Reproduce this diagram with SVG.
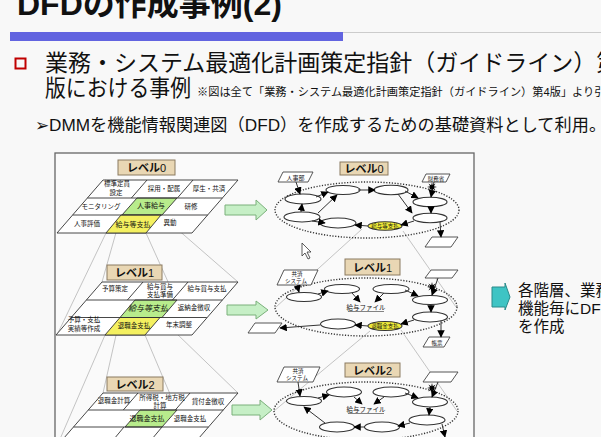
<svg xmlns="http://www.w3.org/2000/svg" width="601" height="437" viewBox="0 0 601 437">
<style>
.j{font-family:'Liberation Sans','Noto Sans CJK JP',sans-serif;fill:#111}
.cell{fill:#fff;stroke:#333;stroke-width:0.9}
.div{stroke:#333;stroke-width:0.9;fill:none}
.g{fill:#b8ec8c;stroke:#333;stroke-width:0.9}
.y{fill:#f4f060;stroke:#333;stroke-width:0.9}
.lab{fill:#e9d7b4;stroke:#8a7a60;stroke-width:1}
.zl{stroke:#b5b5b5;stroke-width:0.8;fill:none}
.ga{fill:#c6efc6;stroke:#7ab07a;stroke-width:1}
.pr{fill:#fff;stroke:#333;stroke-width:1.1}
.py{fill:#f2ee3a;stroke:#333;stroke-width:1.1}
.dot{fill:none;stroke:#333;stroke-width:1.4;stroke-dasharray:1.2 1.6}
.ent{fill:#fff;stroke:#444;stroke-width:0.9}
.c{stroke:#333;stroke-width:1;fill:none;marker-end:url(#ah)}
.t6{font-size:6.5px}
.t7{font-size:7px}
.lt{font-size:11px;font-weight:bold}
</style>
<defs>
<marker id="ah" viewBox="0 0 10 10" refX="9" refY="5" markerWidth="7.5" markerHeight="7.5" markerUnits="userSpaceOnUse" orient="auto"><path d="M0,0 L10,5 L0,10 z" fill="#000"/></marker>
<polygon id="star" points="5,0 1.85,0.77 3.54,3.54 0.77,1.85 0,5 -0.77,1.85 -3.54,3.54 -1.85,0.77 -5,0 -1.85,-0.77 -3.54,-3.54 -0.77,-1.85 0,-5 0.77,-1.85 3.54,-3.54 1.85,-0.77" fill="#000"/>
</defs>
<rect width="601" height="437" fill="#f8f8f8"/>

<g id="header">
<text class="j" x="17" y="15" font-size="32" font-weight="bold">DFDの作成事例(2)</text>
<rect x="10" y="32" width="333" height="9" fill="#6264e0"/>
<line x1="343" y1="32.5" x2="601" y2="32.5" stroke="#ccc" stroke-width="1"/>
<rect x="15.5" y="58.5" width="10" height="10" fill="none" stroke="#c00000" stroke-width="2"/>
<text class="j" x="45" y="71" font-size="23">業務・システム最適化計画策定指針（ガイドライン）第</text>
<text class="j" x="45" y="96" font-size="23" textLength="146" lengthAdjust="spacingAndGlyphs">版における事例</text>
<text class="j" x="197" y="96" font-size="11.2">※図は全て「業務・システム最適化計画策定指針（ガイドライン）第4版」より引</text>
<text class="j" x="35" y="131" font-size="17.2">➢DMMを機能情報関連図（DFD）を作成するための基礎資料として利用。</text>
</g>

<rect x="55" y="153" width="419" height="300" fill="#fafafa" stroke="#666" stroke-width="1.3"/>

<g id="zoomlines">
<path class="zl" d="M121,215 L102,282 M106,233 L57,335 M161,215 L238,282 M146,233 L192,335"/>
<path class="zl" d="M120,317.5 L103,393 M105,335 L57,446 M160,317.5 L238,393 M145,335 L192,446"/>
<path class="zl" d="M362,229 L276,307 M403,231 L456,307 M370,331 L274,411 M401,330 L457,411"/>
</g>

<g id="level0-dmm">
<rect class="lab" x="118" y="160" width="57" height="15"/>
<text class="j lt" x="146.5" y="172" text-anchor="middle">レベル<tspan font-weight="normal">0</tspan></text>
<polygon class="cell" points="103,180 238,180 192,233 57,233"/>
<polygon class="g" points="137,198 177,198 162,215 122,215"/>
<polygon class="y" points="121,215 161,215 146,233 106,233"/>
<path class="div" d="M87.4,198 H222.4 M72.7,215 H207.7 M147,180 L131.4,198 M193,180 L177.4,198"/>
<text class="j t6" x="117" y="186" text-anchor="middle">標準定員</text>
<text class="j t6" x="116" y="195" text-anchor="middle">設定</text>
<text class="j t6" x="164" y="191" text-anchor="middle">採用・配属</text>
<text class="j t6" x="209" y="191" text-anchor="middle">厚生・共済</text>
<text class="j t6" x="101" y="209" text-anchor="middle">モニタリング</text>
<text class="j t7" x="151" y="208" text-anchor="middle">人事給与</text>
<text class="j t6" x="191" y="209" text-anchor="middle">研修</text>
<text class="j t6" x="87" y="226" text-anchor="middle">人事評価</text>
<text class="j t7" x="133" y="227" text-anchor="middle">給与等支払</text>
<text class="j t6" x="170" y="225" text-anchor="middle">異動</text>
</g>

<g id="level1-dmm">
<rect class="lab" x="107" y="265" width="55" height="15"/>
<text class="j lt" x="134.5" y="277" text-anchor="middle">レベル<tspan font-weight="normal">1</tspan></text>
<polygon class="cell" points="102,282 238,282 192,335 56,335"/>
<polygon class="g" points="135,300 177,300 162,317.5 120,317.5"/>
<polygon class="y" points="120,317.5 160,317.5 145,335 105,335"/>
<path class="div" d="M86.4,300 H222.4 M70.8,317.5 H206.8 M143,282 L127.4,300 M188,282 L172.4,300"/>
<text class="j t6" x="115" y="291" text-anchor="middle">予算策定</text>
<text class="j t6" x="160" y="289" text-anchor="middle">給与賞与</text>
<text class="j t6" x="160" y="297" text-anchor="middle">支払準備</text>
<text class="j t6" x="207" y="291" text-anchor="middle">給与賞与支払</text>
<text class="j" x="148" y="311" font-size="8" text-anchor="middle" font-style="italic">給与等支払</text>
<text class="j t6" x="194" y="310" text-anchor="middle">返納金徴収</text>
<text class="j t6" x="84" y="322" text-anchor="middle">予算・支払</text>
<text class="j t6" x="84" y="331" text-anchor="middle">実績等作成</text>
<text class="j t6" x="134" y="328" text-anchor="middle">退職金支払</text>
<text class="j t6" x="179" y="327" text-anchor="middle">年末調整</text>
</g>

<g id="level2-dmm">
<rect class="lab" x="107" y="377" width="56" height="14"/>
<text class="j lt" x="135" y="388.5" text-anchor="middle">レベル<tspan font-weight="normal">2</tspan></text>
<polygon class="cell" points="103,393 238,393 192,446 57,446"/>
<polygon class="g" points="140,410 177,410 162,427 125,427"/>
<path class="div" d="M88.3,410 H223.3 M73.5,427 H208.5 M138,393 L123.3,410 M190,393 L175.3,410 M124,427 L109,445 M162,427 L147,445"/>
<text class="j t6" x="114" y="403" text-anchor="middle">退職金計算</text>
<text class="j t6" x="162" y="400" text-anchor="middle">所得税・地方税</text>
<text class="j t6" x="160" y="408" text-anchor="middle">計算</text>
<text class="j t6" x="208" y="404" text-anchor="middle">貸付金徴収</text>
<text class="j t7" x="147" y="421" text-anchor="middle">退職金支払</text>
<text class="j t6" x="190" y="421" text-anchor="middle">退職金支払</text>
</g>

<g id="arrows-green">
<path class="ga" d="M225,205 H256 V200 L267,210 L256,220 V215 H225 Z"/>
<path class="ga" d="M227,305 H256 V301 L268,310 L256,319 V315 H227 Z"/>
<path class="ga" d="M232,405 H260 V400 L272,410 L260,420 V415 H232 Z"/>
</g>

<g id="level0-dfd">
<rect class="lab" x="340" y="162" width="48" height="13"/>
<text class="j lt" x="364" y="173" text-anchor="middle">レベル<tspan font-weight="normal">0</tspan></text>
<ellipse class="dot" cx="367" cy="210" rx="92" ry="28"/>
<polygon class="ent" points="278,182 283,172 313,172 308,182"/>
<text class="j" x="295.5" y="179.5" font-size="6" text-anchor="middle">人事部</text>
<polygon class="ent" points="422,182 426,174 450,174 446,182"/>
<text class="j" x="436" y="180.5" font-size="5.5" text-anchor="middle">財務省</text>
<polygon class="ent" points="425,247 432,237 458,237 451,247"/>
<ellipse class="pr" cx="303" cy="199" rx="18" ry="5"/>
<ellipse class="pr" cx="343" cy="190" rx="17" ry="4.5"/>
<ellipse class="pr" cx="391" cy="190" rx="17" ry="4.8"/>
<ellipse class="pr" cx="430" cy="202" rx="17" ry="4.8"/>
<ellipse class="pr" cx="430" cy="218" rx="17" ry="4.8"/>
<ellipse class="py" cx="385" cy="226" rx="17" ry="4.2"/>
<text class="j" x="385" y="228.3" font-size="5.5" text-anchor="middle">給与等支払</text>
<ellipse class="pr" cx="338" cy="223" rx="18" ry="5"/>
<ellipse class="pr" cx="302" cy="217" rx="18" ry="5"/>
</g>
<g id="level0-conn">
<path class="c" d="M296,182 L300,194"/>
<path class="c" d="M316,197 L328,192"/>
<path class="c" d="M318,213 L337,195"/>
<path class="c" d="M358,190 L375,190"/>
<path class="c" d="M405,191 L418,198"/>
<path class="c" d="M398,194 L412,213"/>
<path class="c" d="M434,182 L431,197"/>
<path class="c" d="M431,207 L431,213"/>
<path class="c" d="M414,221 L401,225"/>
<path class="c" d="M368,226 L355,225"/>
<path class="c" d="M312,221 L325,223"/>
<path class="c" d="M301,212 L302,204"/>
<path class="c" d="M440,222 L441,237"/>
<use href="#star" x="432" y="187"/>
</g>

<g id="level1-dfd">
<rect class="lab" x="345" y="259" width="55" height="16"/>
<text class="j lt" x="372.5" y="271.5" text-anchor="middle">レベル<tspan font-weight="normal">1</tspan></text>
<ellipse class="dot" cx="366" cy="307" rx="91" ry="29"/>
<polygon class="ent" points="277,285 284,270 318,270 311,285"/>
<text class="j" x="297" y="276" font-size="5.5" text-anchor="middle">共済</text>
<text class="j" x="296" y="283" font-size="5.5" text-anchor="middle">システム</text>
<polygon class="ent" points="425,278 431,270 458,270 452,278"/>
<polygon class="ent" points="248,333 255,323 282,323 275,333"/>
<polygon class="ent" points="423,347 429,337 450,337 444,347"/>
<text class="j" x="437" y="344.5" font-size="5.5" text-anchor="middle">帳票</text>
<ellipse class="pr" cx="304" cy="297" rx="17.5" ry="4.5"/>
<ellipse class="pr" cx="342" cy="289" rx="17.5" ry="4.5"/>
<ellipse class="pr" cx="391" cy="289" rx="18" ry="4.5"/>
<ellipse class="pr" cx="430" cy="300" rx="17.5" ry="4.5"/>
<ellipse class="pr" cx="430" cy="317" rx="17.5" ry="5"/>
<ellipse class="py" cx="385" cy="326" rx="17" ry="4.5"/>
<text class="j" x="385" y="328.3" font-size="5.5" text-anchor="middle">退職金支払</text>
<ellipse class="pr" cx="338" cy="324" rx="17.5" ry="5"/>
<text class="j" x="366" y="310" font-size="6.5" text-anchor="middle">給与ファイル</text>
<line x1="348" y1="311.5" x2="384" y2="311.5" stroke="#333" stroke-width="0.6"/>
</g>
<g id="level1-conn">
<path class="c" d="M297,285 L299,292"/>
<path class="c" d="M318,294 L328,291"/>
<path class="c" d="M352,293 L360,302"/>
<path class="c" d="M384,293 L375,302"/>
<path class="c" d="M405,290 L418,296"/>
<path class="c" d="M438,278 L432,295"/>
<path class="c" d="M431,305 L431,312"/>
<path class="c" d="M414,320 L401,324"/>
<path class="c" d="M368,326 L355,325"/>
<path class="c" d="M320,325 L280,328"/>
<path class="c" d="M441,321 L441,337"/>
<use href="#star" x="432" y="287"/>
</g>

<g id="level2-dfd">
<rect class="lab" x="345" y="363" width="55" height="14"/>
<text class="j lt" x="372.5" y="374.5" text-anchor="middle">レベル<tspan font-weight="normal">2</tspan></text>
<ellipse class="dot" cx="366" cy="411" rx="92" ry="29"/>
<polygon class="ent" points="277,382 284,367 320,367 313,382"/>
<text class="j" x="298" y="373" font-size="5.5" text-anchor="middle">共済</text>
<text class="j" x="297" y="380" font-size="5.5" text-anchor="middle">システム</text>
<polygon class="ent" points="423,382 430,372 458,372 451,382"/>
<ellipse class="pr" cx="304" cy="401" rx="17.5" ry="4.5"/>
<ellipse class="pr" cx="344" cy="392" rx="17.5" ry="5"/>
<ellipse class="pr" cx="391" cy="392" rx="18" ry="5"/>
<ellipse class="pr" cx="430" cy="402" rx="17.5" ry="5"/>
<ellipse class="pr" cx="427" cy="420" rx="18" ry="5"/>
<ellipse class="pr" cx="382" cy="427" rx="17.5" ry="5"/>
<ellipse class="pr" cx="337" cy="427" rx="17.5" ry="5"/>
<text class="j" x="366" y="412" font-size="6.5" text-anchor="middle">給与ファイル</text>
<line x1="348" y1="413.5" x2="384" y2="413.5" stroke="#333" stroke-width="0.6"/>
</g>
<g id="level2-conn">
<path class="c" d="M298,382 L300,396"/>
<path class="c" d="M318,398 L329,395"/>
<path class="c" d="M354,397 L362,404"/>
<path class="c" d="M384,397 L374,404"/>
<path class="c" d="M405,393 L418,398"/>
<path class="c" d="M438,382 L432,397"/>
<path class="c" d="M430,407 L429,415"/>
<path class="c" d="M410,423 L398,426"/>
<path class="c" d="M365,427 L354,427"/>
<path class="c" d="M325,423 L304,407"/>
<path class="c" d="M442,424 L445,437"/>
<use href="#star" x="432" y="388"/>
</g>

<path d="M302,243 L302,256 L305,253 L308,259 L310,258 L307,252 L311,252 Z" fill="#fff" stroke="#333" stroke-width="0.8"/>

<g id="note">
<path d="M492,287 H505 V283 L510,297 L505,310 V307 H492 Z" fill="#3ec4c4" stroke="#2a8a8a" stroke-width="1"/>
<text class="j" x="518" y="296" font-size="15.5">各階層、業務</text>
<text class="j" x="518" y="314" font-size="15.5">機能毎にDFD</text>
<text class="j" x="518" y="332" font-size="15.5">を作成</text>
</g>
</svg>
